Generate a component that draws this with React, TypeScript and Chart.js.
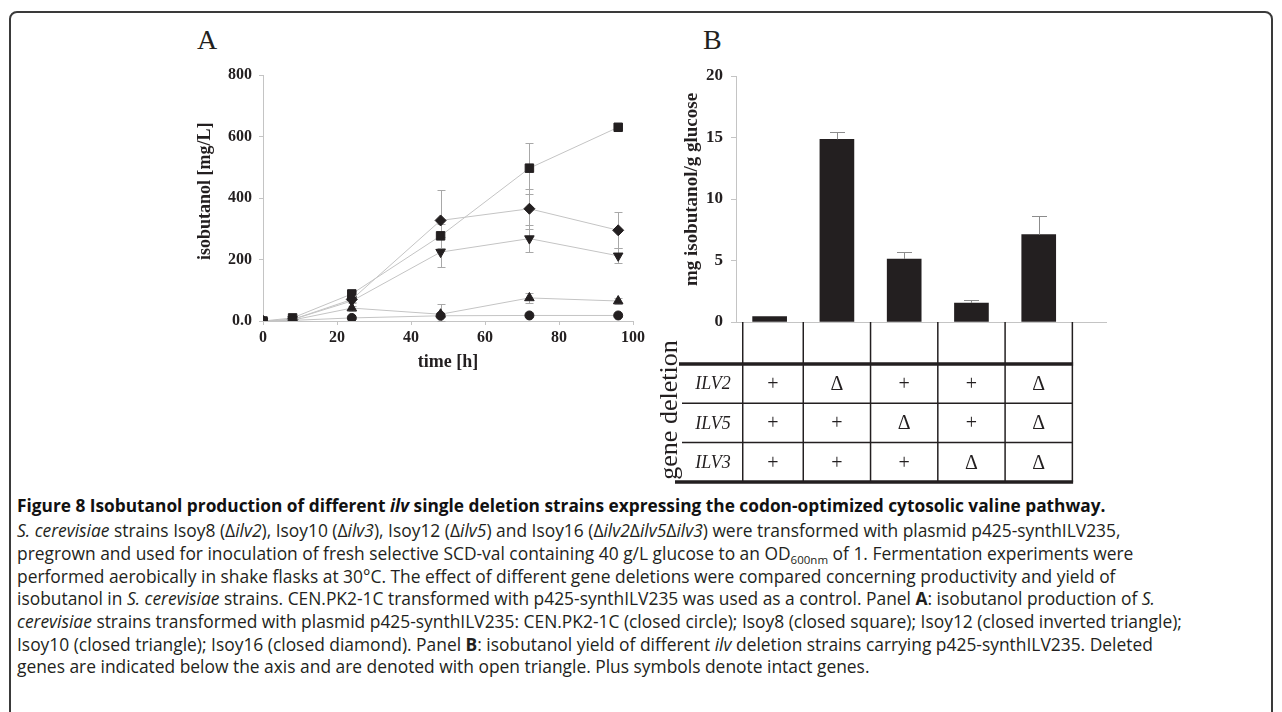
import React, { useEffect, useRef } from 'react';
import { Chart, registerables } from 'chart.js';

Chart.register(...registerables);

// ---------- Panel A data ----------
const timeH = [0, 8, 24, 48, 72, 96];
const cenpkValues = [0, 2, 10, 17, 18, 18];
const isoy8Values = [0, 10, 88, 277, 497, 630];
const isoy12Values = [0, 5, 65, 224, 268, 212];
const isoy10Values = [0, 3, 42, 22, 75, 65];
const isoy16Values = [0, 5, 70, 327, 365, 295];
const cenpkErr = [0, 0, 3, 5, 5, 5];
const isoy8Err = [0, 2, 8, 40, 83, 10];
const isoy12Err = [0, 2, 8, 50, 45, 25];
const isoy10Err = [0, 1, 8, 33, 15, 10];
const isoy16Err = [0, 2, 8, 98, 65, 58];
const xTicksA = [0, 20, 40, 60, 80, 100];
const yTicksA = [0, 200, 400, 600, 800];

// ---------- Panel B data ----------
const strainsB = ['CEN.PK2-1C', 'Isoy8', 'Isoy12', 'Isoy10', 'Isoy16'];
const yieldB = [0.45, 14.85, 5.12, 1.54, 7.1];
const yieldErrB = [0, 0.6, 0.6, 0.22, 1.5];
const yTicksB = [0, 5, 10, 15, 20];
const geneNames = ['ILV2', 'ILV5', 'ILV3'];
const ilv2Status = ['+', 'Δ', '+', '+', 'Δ'];
const ilv5Status = ['+', '+', 'Δ', '+', 'Δ'];
const ilv3Status = ['+', '+', '+', 'Δ', 'Δ'];

const INK = '#231f20';
const AXIS = '#c4c4c4';
const SERIF = "'Liberation Serif', 'Times New Roman', serif";
const NBSP = '\u00a0';

const seriesA = [
  { name: 'CEN.PK2-1C', values: cenpkValues, err: cenpkErr, style: 'circle', rot: 0, r: 4.5 },
  { name: 'Isoy10', values: isoy10Values, err: isoy10Err, style: 'triangle', rot: 0, r: 5.5 },
  { name: 'Isoy12', values: isoy12Values, err: isoy12Err, style: 'triangle', rot: 180, r: 5.5 },
  { name: 'Isoy16', values: isoy16Values, err: isoy16Err, style: 'rectRot', rot: 0, r: 5.5 },
  { name: 'Isoy8', values: isoy8Values, err: isoy8Err, style: 'rect', rot: 0, r: 6 },
];

const errorBarsA = {
  id: 'errorBarsA',
  beforeDatasetsDraw(chart: any) {
    const { ctx, scales } = chart;
    const x = scales.x, y = scales.y;
    ctx.save();
    ctx.strokeStyle = '#a8a8a8';
    ctx.lineWidth = 1;
    seriesA.forEach((s) => {
      s.values.forEach((v, i) => {
        const e = s.err[i];
        if (!e) return;
        const px = Math.round(x.getPixelForValue(timeH[i])) + 0.5;
        const yt = Math.round(y.getPixelForValue(v + e)) + 0.5;
        const yb = Math.round(y.getPixelForValue(Math.max(0, v - e))) + 0.5;
        ctx.beginPath();
        ctx.moveTo(px, yt);
        ctx.lineTo(px, yb);
        ctx.moveTo(px - 4, yt);
        ctx.lineTo(px + 4, yt);
        ctx.moveTo(px - 4, yb);
        ctx.lineTo(px + 4, yb);
        ctx.stroke();
      });
    });
    ctx.restore();
  },
};

const errorBarsB = {
  id: 'errorBarsB',
  afterDatasetsDraw(chart: any) {
    const { ctx, scales } = chart;
    const x = scales.x, y = scales.y;
    ctx.save();
    ctx.strokeStyle = '#8c8c8c';
    ctx.lineWidth = 1;
    yieldB.forEach((v, i) => {
      const e = yieldErrB[i];
      if (!e) return;
      const px = Math.round(x.getPixelForValue(i + 0.5)) + 0.5;
      const yt = Math.round(y.getPixelForValue(v + e)) + 0.5;
      const yb = y.getPixelForValue(v);
      ctx.beginPath();
      ctx.moveTo(px, yb);
      ctx.lineTo(px, yt);
      ctx.moveTo(px - 7.5, yt);
      ctx.lineTo(px + 7.5, yt);
      ctx.stroke();
    });
    ctx.restore();
  },
};

const geneTable = {
  id: 'geneTable',
  afterDraw(chart: any) {
    const { ctx, scales } = chart;
    const x = scales.x, y = scales.y;
    const statusRows = [ilv2Status, ilv5Status, ilv3Status];
    const colEdges = [0.1, 1, 2, 3, 4, 5].map((v) => x.getPixelForValue(v));
    const y0 = y.getPixelForValue(0);
    const headerBottom = y0 + 42;
    const rowH = 39.3;
    const tableBottom = headerBottom + rowH * 3;
    const right = colEdges[colEdges.length - 1];
    ctx.save();
    ctx.strokeStyle = INK;
    // vertical lines
    ctx.lineWidth = 1.5;
    colEdges.forEach((cx) => {
      ctx.beginPath();
      ctx.moveTo(cx, y0);
      ctx.lineTo(cx, tableBottom);
      ctx.stroke();
    });
    // thin row separators
    for (let r = 1; r < 3; r++) {
      const ry = headerBottom + rowH * r;
      ctx.beginPath();
      ctx.moveTo(42, ry);
      ctx.lineTo(right, ry);
      ctx.stroke();
    }
    // thick lines
    ctx.lineWidth = 3.5;
    ctx.beginPath();
    ctx.moveTo(39, headerBottom);
    ctx.lineTo(right + 0.75, headerBottom);
    ctx.stroke();
    ctx.beginPath();
    ctx.moveTo(35, tableBottom);
    ctx.lineTo(right + 0.75, tableBottom);
    ctx.stroke();
    // text
    ctx.fillStyle = INK;
    ctx.textAlign = 'center';
    ctx.textBaseline = 'middle';
    geneNames.forEach((g, r) => {
      const cy = headerBottom + rowH * (r + 0.5) + 1;
      ctx.font = `italic 18px ${SERIF}`;
      ctx.fillText(g, 73, cy);
      ctx.font = `20px ${SERIF}`;
      statusRows[r].forEach((s, c) => {
        ctx.fillText(s, (colEdges[c] + colEdges[c + 1]) / 2, cy);
      });
    });
    // rotated row title
    ctx.save();
    ctx.translate(30, headerBottom + 46);
    ctx.rotate(-Math.PI / 2);
    ctx.font = `26px ${SERIF}`;
    ctx.fillText('gene deletion', 0, 0);
    ctx.restore();
    ctx.restore();
  },
};

export default function App() {
  const refA = useRef<HTMLCanvasElement>(null);
  const refB = useRef<HTMLCanvasElement>(null);

  useEffect(() => {
    const tickFontA = { family: SERIF, size: 16, weight: 'bold' as const };
    const titleFontA = { family: SERIF, size: 18, weight: 'bold' as const };

    const chartA = new Chart(refA.current!, {
      type: 'line',
      data: {
        datasets: seriesA.map((s) => ({
          label: s.name,
          data: timeH.map((t, i) => ({ x: t, y: s.values[i] })),
          borderColor: AXIS,
          borderWidth: 1,
          pointStyle: s.style as any,
          pointRotation: s.rot,
          pointRadius: s.r,
          pointBackgroundColor: INK,
          pointBorderColor: INK,
          pointBorderWidth: 1,
          tension: 0,
          fill: false,
        })),
      },
      options: {
        responsive: false,
        animation: false,
        layout: { padding: { top: 25, right: 37, left: 0, bottom: 0 } },
        plugins: { legend: { display: false }, tooltip: { enabled: false } },
        scales: {
          x: {
            type: 'linear',
            min: 0,
            max: 100,
            afterBuildTicks: (s: any) => { s.ticks = xTicksA.map((v) => ({ value: v })); },
            ticks: { font: tickFontA, color: INK, padding: 3 },
            grid: { drawOnChartArea: false, tickLength: 4, color: AXIS },
            border: { color: AXIS },
            title: { display: true, text: 'time [h]', font: titleFontA, color: INK, padding: { top: 0, bottom: 7 } },
            afterFit: (s: any) => { s.height = 59; },
          },
          y: {
            min: 0,
            max: 800,
            afterBuildTicks: (s: any) => { s.ticks = yTicksA.map((v) => ({ value: v })); },
            ticks: { font: tickFontA, color: INK, padding: 7, callback: (v: any) => (v === 0 ? '0.0' : String(v)) },
            grid: { drawOnChartArea: false, tickLength: 4, color: AXIS },
            border: { color: AXIS },
            title: { display: true, text: NBSP.repeat(3) + 'isobutanol [mg/L]', font: titleFontA, color: INK, padding: { top: 45, bottom: 0 } },
            afterFit: (s: any) => { s.width = 113; },
          },
        },
      },
      plugins: [errorBarsA],
    });

    const tickFontB = { family: SERIF, size: 17, weight: 'bold' as const };
    const titleFontB = { family: SERIF, size: 19, weight: 'bold' as const };

    const chartB = new Chart(refB.current!, {
      type: 'bar',
      data: {
        labels: strainsB,
        datasets: [
          {
            label: 'yield',
            data: yieldB.map((v, i) => ({ x: i + 0.5, y: v })),
            backgroundColor: INK,
            borderWidth: 0,
            barThickness: 34,
          },
        ],
      },
      options: {
        responsive: false,
        animation: false,
        layout: { padding: { top: 26, right: 24, left: 0, bottom: 0 } },
        plugins: { legend: { display: false }, tooltip: { enabled: false } },
        scales: {
          x: {
            type: 'linear',
            min: 0,
            max: 5.5,
            offset: false,
            ticks: { display: false },
            grid: { drawOnChartArea: false, drawTicks: false, offset: false },
            border: { color: AXIS },
            afterFit: (s: any) => { s.height = 168; },
          },
          y: {
            min: 0,
            max: 20,
            afterBuildTicks: (s: any) => { s.ticks = yTicksB.map((v) => ({ value: v })); },
            ticks: { font: tickFontB, color: INK, padding: 8 },
            grid: { drawOnChartArea: false, tickLength: 5, color: AXIS },
            border: { color: AXIS },
            title: { display: true, text: NBSP.repeat(4) + 'mg isobutanol/g glucose', font: titleFontB, color: INK, padding: { top: 41, bottom: 0 } },
            afterFit: (s: any) => { s.width = 96; },
          },
        },
      },
      plugins: [errorBarsB, geneTable],
    });

    return () => {
      chartA.destroy();
      chartB.destroy();
    };
  }, []);

  const capFont = "'Open Sans', 'Noto Sans', sans-serif";
  const lineStyle = (top: number): React.CSSProperties => ({
    position: 'absolute',
    left: 17,
    top,
    whiteSpace: 'nowrap',
    fontFamily: capFont,
    fontSize: 17.4,
    lineHeight: '22px',
    color: INK,
  });
  const bodyTops = [519, 542, 565, 587, 610, 633, 655];

  return (
    <div style={{ position: 'fixed', left: 0, top: 0, width: 1282, height: 712, overflow: 'hidden', background: '#fff' }}>
      <div
        style={{
          position: 'absolute',
          left: 9,
          top: 11,
          width: 1264,
          height: 740,
          border: '2px solid #3a3a3a',
          borderRadius: 8,
          boxSizing: 'border-box',
        }}
      />
      <div style={{ position: 'absolute', left: 197, top: 26, fontFamily: SERIF, fontSize: 28, lineHeight: '28px', color: INK }}>A</div>
      <div style={{ position: 'absolute', left: 703, top: 26, fontFamily: SERIF, fontSize: 28, lineHeight: '28px', color: INK }}>B</div>
      <canvas ref={refA} width={520} height={330} style={{ position: 'absolute', left: 150, top: 50 }} />
      <canvas ref={refB} width={490} height={440} style={{ position: 'absolute', left: 640, top: 50 }} />

      <div style={{ ...lineStyle(495), fontWeight: 'bold', fontSize: 17.3, color: '#111' }}>
        Figure 8 Isobutanol production of different <i>ilv</i> single deletion strains expressing the codon-optimized cytosolic valine pathway.
      </div>
      <div style={lineStyle(bodyTops[0])}>
        <i>S. cerevisiae</i> strains Isoy8 (Δ<i>ilv2</i>), Isoy10 (Δ<i>ilv3</i>), Isoy12 (Δ<i>ilv5</i>) and Isoy16 (Δ<i>ilv2</i>Δ<i>ilv5</i>Δ<i>ilv3</i>) were transformed with plasmid p425-synthILV235,
      </div>
      <div style={lineStyle(bodyTops[1])}>
        pregrown and used for inoculation of fresh selective SCD-val containing 40 g/L glucose to an OD<sub style={{ fontSize: 11.5, lineHeight: 0 }}>600nm</sub> of 1. Fermentation experiments were
      </div>
      <div style={lineStyle(bodyTops[2])}>
        performed aerobically in shake flasks at 30°C. The effect of different gene deletions were compared concerning productivity and yield of
      </div>
      <div style={lineStyle(bodyTops[3])}>
        isobutanol in <i>S. cerevisiae</i> strains. CEN.PK2-1C transformed with p425-synthILV235 was used as a control. Panel <b>A</b>: isobutanol production of <i>S.</i>
      </div>
      <div style={lineStyle(bodyTops[4])}>
        <i>cerevisiae</i> strains transformed with plasmid p425-synthILV235: CEN.PK2-1C (closed circle); Isoy8 (closed square); Isoy12 (closed inverted triangle);
      </div>
      <div style={lineStyle(bodyTops[5])}>
        Isoy10 (closed triangle); Isoy16 (closed diamond). Panel <b>B</b>: isobutanol yield of different <i>ilv</i> deletion strains carrying p425-synthILV235. Deleted
      </div>
      <div style={lineStyle(bodyTops[6])}>
        genes are indicated below the axis and are denoted with open triangle. Plus symbols denote intact genes.
      </div>
    </div>
  );
}
